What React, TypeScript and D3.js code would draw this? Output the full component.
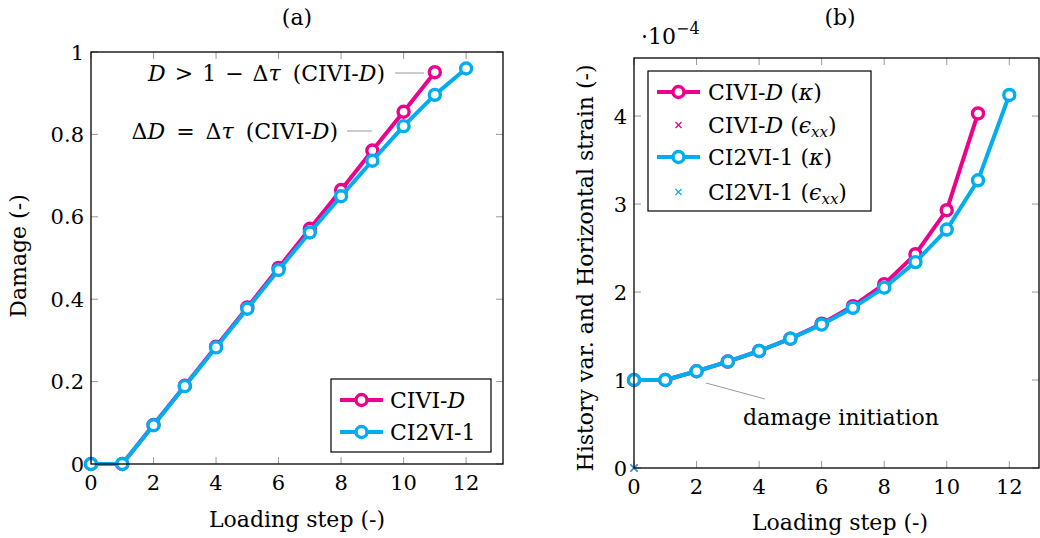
import React from "react";
import * as d3 from "d3";

const steps = [0, 1, 2, 3, 4, 5, 6, 7, 8, 9, 10, 11, 12];
const damageCIVID = [0, 0, 0.095, 0.19, 0.285, 0.38, 0.476, 0.571, 0.665, 0.761, 0.855, 0.951];
const damageCI2VI = [0, 0, 0.094, 0.189, 0.283, 0.377, 0.471, 0.562, 0.65, 0.736, 0.82, 0.896, 0.96];
const kappaCIVID = [1.0, 1.0, 1.1, 1.21, 1.33, 1.47, 1.64, 1.84, 2.09, 2.43, 2.93, 4.03];
const kappaCI2VI = [1.0, 1.0, 1.1, 1.21, 1.33, 1.47, 1.63, 1.82, 2.05, 2.34, 2.71, 3.27, 4.24];
const epsCIVID = [[0, 0]];
const epsCI2VI = [[0, 0]];
const xTicks = [0, 2, 4, 6, 8, 10, 12];
const yTicksA = [0, 0.2, 0.4, 0.6, 0.8, 1];
const yTicksB = [0, 1, 2, 3, 4];

const MAG = "#EC008C";
const CYA = "#00AEEF";
const FONT = "'DejaVu Serif', serif";
const FS = 22;
const TFS = 21;

function Frame({ x, y, xTickVals, yTickVals, yFmt }: any) {
  const [x0, x1] = x.range();
  const [y0, y1] = y.range();
  const tl = 7;
  return (
    <g>
      {xTickVals.map((t: number) => (
        <g key={"x" + t}>
          <line x1={x(t)} x2={x(t)} y1={y0} y2={y0 - tl} stroke="#999" strokeWidth={1} />
          <line x1={x(t)} x2={x(t)} y1={y1} y2={y1 + tl} stroke="#999" strokeWidth={1} />
          <text x={x(t)} y={y0 + 18} dy="0.36em" textAnchor="middle" fontSize={TFS} fontFamily={FONT}>{t}</text>
        </g>
      ))}
      {yTickVals.map((t: number) => (
        <g key={"y" + t}>
          <line x1={x0} x2={x0 + tl} y1={y(t)} y2={y(t)} stroke="#999" strokeWidth={1} />
          <line x1={x1} x2={x1 - tl} y1={y(t)} y2={y(t)} stroke="#999" strokeWidth={1} />
          <text x={x0 - 7} y={y(t)} dy="0.36em" textAnchor="end" fontSize={TFS} fontFamily={FONT}>{yFmt(t)}</text>
        </g>
      ))}
    </g>
  );
}

function Border({ x, y }: any) {
  const [x0, x1] = x.range();
  const [y0, y1] = y.range();
  return <rect x={x0} y={y1} width={x1 - x0} height={y0 - y1} fill="none" stroke="#000" strokeWidth={1.3} />;
}

function Series({ x, y, data, color }: any) {
  const pts = data.map((v: number, i: number) => [steps[i], v]);
  const line = d3.line<any>().x((d) => x(d[0])).y((d) => y(d[1]));
  return (
    <g>
      <path d={line(pts) || ""} fill="none" stroke={color} strokeWidth={4} strokeLinejoin="round" />
      {pts.map((p: any, i: number) => (
        <circle key={i} cx={x(p[0])} cy={y(p[1])} r={5.5} fill="#fff" stroke={color} strokeWidth={3.4} />
      ))}
    </g>
  );
}

function Cross({ cx, cy, color, s = 3.5 }: any) {
  return (
    <g stroke={color} strokeWidth={1.2}>
      <line x1={cx - s} x2={cx + s} y1={cy - s} y2={cy + s} />
      <line x1={cx - s} x2={cx + s} y1={cy + s} y2={cy - s} />
    </g>
  );
}

function LegendLine({ x, y, color }: any) {
  return (
    <g>
      <line x1={x} x2={x + 43} y1={y} y2={y} stroke={color} strokeWidth={4} />
      <circle cx={x + 21.5} cy={y} r={5.5} fill="#fff" stroke={color} strokeWidth={3.4} />
    </g>
  );
}

export default function App() {
  const xA = d3.scaleLinear().domain([0, 13.18]).range([91, 503]);
  const yA = d3.scaleLinear().domain([0, 1]).range([464, 52]);
  const xB = d3.scaleLinear().domain([0, 12.95]).range([634, 1039]);
  const yB = d3.scaleLinear().domain([0, 4.66]).range([468, 58]);
  const fmtA = (t: number) => (t === 0 || t === 1 ? String(t) : t.toFixed(1));
  const fmtB = (t: number) => String(t);

  return (
    <svg width={1040} height={538} style={{ position: "absolute", left: 0, top: 0, background: "#fff" }}>
      <rect width={1040} height={538} fill="#fff" />
      {/* Panel (a) */}
      <text x={297} y={17} dy="0.36em" textAnchor="middle" fontSize={FS} fontFamily={FONT}>(a)</text>
      <Frame x={xA} y={yA} xTickVals={xTicks} yTickVals={yTicksA} yFmt={fmtA} />
      <Series x={xA} y={yA} data={damageCIVID} color={MAG} />
      <Series x={xA} y={yA} data={damageCI2VI} color={CYA} />
      <Border x={xA} y={yA} />
      <line x1={395} x2={424} y1={73} y2={73} stroke="#999" strokeWidth={1} />
      <text x={385} y={73} dy="0.36em" textAnchor="end" fontSize={FS} fontFamily={FONT}>
        <tspan fontStyle="italic">D</tspan><tspan dx={9}>&gt;</tspan><tspan dx={9}>1</tspan><tspan dx={9}>−</tspan><tspan dx={9}>Δ</tspan><tspan fontStyle="italic">τ</tspan><tspan dx={12}>(CIVI-</tspan><tspan fontStyle="italic">D</tspan>)
      </text>
      <line x1={347} x2={372} y1={131} y2={131} stroke="#999" strokeWidth={1} />
      <text x={338} y={131} dy="0.36em" textAnchor="end" fontSize={FS} fontFamily={FONT}>
        Δ<tspan fontStyle="italic">D</tspan><tspan dx={11}>=</tspan><tspan dx={11}>Δ</tspan><tspan fontStyle="italic">τ</tspan><tspan dx={12}>(CIVI-</tspan><tspan fontStyle="italic">D</tspan>)
      </text>
      <rect x={331} y={379} width={160} height={73} fill="#fff" stroke="#000" strokeWidth={1.2} />
      <LegendLine x={340} y={400} color={MAG} />
      <text x={390} y={400} dy="0.36em" fontSize={FS} fontFamily={FONT}>CIVI-<tspan fontStyle="italic">D</tspan></text>
      <LegendLine x={340} y={432} color={CYA} />
      <text x={390} y={432} dy="0.36em" fontSize={FS} fontFamily={FONT}>CI2VI-1</text>
      <text x={297} y={519} dy="0.36em" textAnchor="middle" fontSize={FS} fontFamily={FONT}>Loading step (-)</text>
      <text transform="translate(18,256) rotate(-90)" dy="0.36em" textAnchor="middle" fontSize={FS} fontFamily={FONT}>Damage (-)</text>

      {/* Panel (b) */}
      <text x={840} y={17} dy="0.36em" textAnchor="middle" fontSize={FS} fontFamily={FONT}>(b)</text>
      <text x={641} y={44} fontSize={FS} fontFamily={FONT}>
        ·10<tspan dy={-10} fontSize={16}>−4</tspan>
      </text>
      <Frame x={xB} y={yB} xTickVals={xTicks} yTickVals={yTicksB} yFmt={fmtB} />
      <Series x={xB} y={yB} data={kappaCIVID} color={MAG} />
      <Series x={xB} y={yB} data={kappaCI2VI} color={CYA} />
      {epsCIVID.map((p, i) => <Cross key={"m" + i} cx={xB(p[0])} cy={yB(p[1])} color={MAG} />)}
      {epsCI2VI.map((p, i) => <Cross key={"c" + i} cx={xB(p[0])} cy={yB(p[1])} color={CYA} />)}
      <Border x={xB} y={yB} />
      <line x1={706} x2={765} y1={383} y2={399} stroke="#999" strokeWidth={1} />
      <text x={841} y={417} dy="0.36em" textAnchor="middle" fontSize={FS} fontFamily={FONT}>damage initiation</text>
      <rect x={648} y={71} width={223} height={140} fill="#fff" stroke="#000" strokeWidth={1.2} />
      <LegendLine x={657} y={92} color={MAG} />
      <text x={708} y={92} dy="0.36em" fontSize={FS} fontFamily={FONT}>CIVI-<tspan fontStyle="italic">D</tspan> (<tspan fontStyle="italic">κ</tspan>)</text>
      <Cross cx={678.5} cy={125} color={MAG} s={3} />
      <text x={708} y={125} dy="0.36em" fontSize={FS} fontFamily={FONT}>CIVI-<tspan fontStyle="italic">D</tspan> (<tspan fontStyle="italic">ϵ</tspan><tspan fontStyle="italic" fontSize={15} dy={4}>xx</tspan><tspan dy={-4}>)</tspan></text>
      <LegendLine x={657} y={157} color={CYA} />
      <text x={708} y={157} dy="0.36em" fontSize={FS} fontFamily={FONT}>CI2VI-1 (<tspan fontStyle="italic">κ</tspan>)</text>
      <Cross cx={678.5} cy={192} color={CYA} s={3} />
      <text x={708} y={192} dy="0.36em" fontSize={FS} fontFamily={FONT}>CI2VI-1 (<tspan fontStyle="italic">ϵ</tspan><tspan fontStyle="italic" fontSize={15} dy={4}>xx</tspan><tspan dy={-4}>)</tspan></text>
      <text x={840} y={522} dy="0.36em" textAnchor="middle" fontSize={FS} fontFamily={FONT}>Loading step (-)</text>
      <text transform="translate(585,268) rotate(-90)" dy="0.36em" textAnchor="middle" fontSize={FS} fontFamily={FONT}>History var. and Horizontal strain (-)</text>
    </svg>
  );
}
